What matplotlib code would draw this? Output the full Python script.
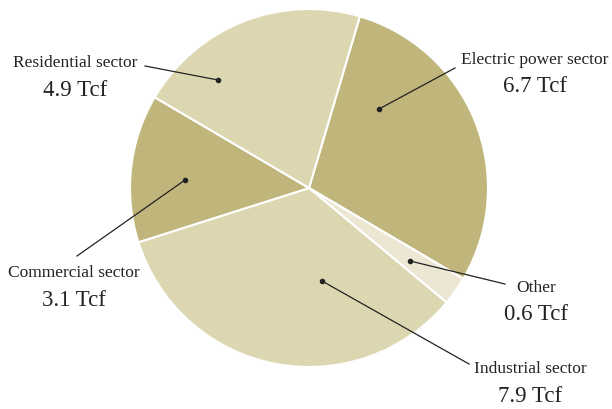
import matplotlib.pyplot as plt

# natural gas consumption by sector, trillion cubic feet
sectors = ['Electric power sector', 'Other', 'Industrial sector',
           'Commercial sector', 'Residential sector']
tcf = [6.7, 0.6, 7.9, 3.1, 4.9]
colors = ['#c0b67b', '#ebe7d2', '#ddd7b1', '#c0b67b', '#ddd7b1']

plt.rcParams['font.family'] = ['Liberation Serif', 'DejaVu Serif']

fig = plt.figure(figsize=(6.12, 4.09), dpi=100)
ax = fig.add_axes([0, 0, 1, 1])

cx, cy, r = 309, 188, 179
# y axis is flipped, so counterclock=True runs clockwise on screen
ax.pie(tcf, colors=colors, startangle=-73.5, counterclock=True,
       center=(cx, cy), radius=r, frame=True,
       wedgeprops=dict(edgecolor='white', linewidth=1.5))
ax.set_xlim(0, 612)
ax.set_ylim(409, 0)
ax.set_aspect('equal')
ax.axis('off')

# dot inside the slice, end of leader line, text position
callouts = {
    'Residential sector': ((218, 80), (145, 66), (75, 63)),
    'Electric power sector': ((379, 109), (455, 68), (535, 60)),
    'Commercial sector': ((185, 180), (77, 256), (74, 273)),
    'Other': ((410, 261), (505, 284), (536, 288)),
    'Industrial sector': ((322, 281), (469, 364), (530, 369)),
}

for name, val in zip(sectors, tcf):
    dot, end, txt = callouts[name]
    ax.plot([dot[0], end[0]], [dot[1], end[1]], color='#222222', lw=0.9)
    ax.plot(dot[0], dot[1], 'o', color='#222222', ms=3)
    ax.text(txt[0], txt[1], name, ha='center', va='center', fontsize=12.5,
            color='#222222')
    ax.text(txt[0], txt[1] + 27, f'{val} Tcf', ha='center', va='center',
            fontsize=16.5, color='#222222')

fig.savefig('out.png', dpi=100, facecolor='white')
